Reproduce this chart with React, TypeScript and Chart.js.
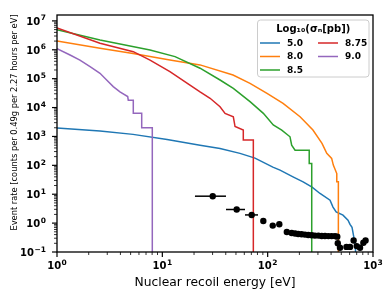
import React, { useEffect, useRef } from 'react';
import { Chart, registerables } from 'chart.js';

Chart.register(...registerables);

const FONT = "'DejaVu Sans', sans-serif";

// Recoil energy [eV] and event rate for each Log10(sigma_n [pb]) curve
const energy50 = [1, 2.56, 5.27, 11.1, 22.8, 35.3, 54.6, 75.8, 112, 131, 174, 217, 264, 314, 391, 417, 447, 519, 579, 605, 632, 660, 680, 690];
const rate50 = [1950, 1530, 1180, 790, 500, 385, 259, 178, 87, 68, 40, 26.8, 17.5, 10.6, 6.2, 3.6, 2.44, 1.88, 1.26, 0.9, 0.72, 0.3, 0.145, 0.05];

const energy80 = [1, 2.56, 5.27, 11.8, 22.8, 46.9, 68, 98.6, 140, 203, 269, 328, 364, 405, 420, 453, 453, 469, 469];
const rate80 = [2.03e6, 1.14e6, 7.4e5, 4.4e5, 3.0e5, 1.34e5, 6.9e4, 3.1e4, 1.4e4, 4.8e3, 1.66e3, 574, 259, 174, 102, 52, 27, 27, 0.01];

const energy85 = [1, 2.56, 7.64, 13.2, 22.8, 35.3, 47.2, 68, 91, 113, 136, 163, 169, 182, 248, 248, 262, 262];
const rate85 = [4.9e6, 2.19e6, 9.9e5, 5.8e5, 2.3e5, 9.0e4, 4.6e4, 1.6e4, 6.3e3, 2.5e3, 1.66e3, 973, 500, 336, 336, 116, 116, 0.01];

const energy875 = [1, 2.56, 5.3, 7.64, 11.8, 18.3, 22.8, 28.4, 35.3, 39.4, 47.2, 49, 58.7, 58.7, 73.1, 73.1];
const rate875 = [5.7e6, 1.69e6, 8.6e5, 4.4e5, 1.75e5, 6.0e4, 3.5e4, 2.1e4, 1.07e4, 6.3e3, 4.8e3, 2.2e3, 1.66e3, 750, 750, 0.01];

const energy90 = [1, 1.33, 1.65, 2.06, 2.56, 2.96, 3.42, 3.96, 4.69, 4.75, 5.3, 5.3, 6.37, 6.37, 8.03, 8.03];
const rate90 = [1.1e6, 6.6e5, 4.4e5, 2.6e5, 1.54e5, 9.0e4, 5.3e4, 3.5e4, 2.4e4, 1.8e4, 1.8e4, 6.3e3, 6.3e3, 2.0e3, 2.0e3, 0.01];

const seriesLabels = ['5.0', '8.0', '8.5', '8.75', '9.0'];
const seriesColors = ['#1f77b4', '#ff7f0e', '#2ca02c', '#d62728', '#9467bd'];
const seriesEnergies = [energy50, energy80, energy85, energy875, energy90];
const seriesRates = [rate50, rate80, rate85, rate875, rate90];

// Measured spectrum (black points) with horizontal error bars
const dataEnergy = [30.1, 50.8, 70.5, 90.9, 111.7, 129, 152, 169, 182, 195, 210, 226, 243, 262, 281, 303, 326, 350, 377, 405, 436, 458, 463, 486, 560, 605, 655, 700, 753, 810, 850];
const dataRate = [8.55, 2.96, 1.92, 1.19, 0.82, 0.91, 0.49, 0.456, 0.435, 0.42, 0.41, 0.4, 0.39, 0.38, 0.37, 0.37, 0.36, 0.36, 0.355, 0.355, 0.355, 0.34, 0.2, 0.14, 0.15, 0.15, 0.25, 0.16, 0.14, 0.21, 0.25];
const dataErrLow = [20.4, 40.2, 60.9];
const dataErrHigh = [40.2, 60.9, 81];

// Tick labels: base "10" with exponent
const tickBase = '10';
const xTickValues = [1, 10, 100, 1000];
const xTickExponents = ['0', '1', '2', '3'];
const yTickValues = [0.1, 1, 10, 100, 1e3, 1e4, 1e5, 1e6, 1e7];
const yTickExponents = ['\u22121', '0', '1', '2', '3', '4', '5', '6', '7'];

const X_MIN = 1;
const X_MAX = 1000;
const Y_MIN = 0.1;
const Y_MAX = 1.6e7;

const legendTitle = 'Log₁₀(σₙ[pb])';
const yTitle = 'Event rate [counts per 0.49g per 2.27 hours per eV]';
const xTitle = 'Nuclear recoil energy [eV]';

function drawPowerLabel(ctx: CanvasRenderingContext2D, exp: string, x: number, baseline: number, align: 'center' | 'right') {
  ctx.font = `bold 10px ${FONT}`;
  const w1 = ctx.measureText(tickBase).width;
  ctx.font = `bold 7.5px ${FONT}`;
  const w2 = ctx.measureText(exp).width;
  const total = w1 + w2 + 0.5;
  const start = align === 'center' ? x - total / 2 : x - total;
  ctx.textAlign = 'left';
  ctx.textBaseline = 'alphabetic';
  ctx.fillStyle = '#000';
  ctx.font = `bold 10px ${FONT}`;
  ctx.fillText(tickBase, start, baseline);
  ctx.font = `bold 7.5px ${FONT}`;
  ctx.fillText(exp, start + w1 + 0.5, baseline - 4.3);
}

const decorPlugin = {
  id: 'decor',
  beforeDatasetsDraw(chart: any) {
    const { ctx, chartArea: a, scales } = chart;
    ctx.save();
    ctx.beginPath();
    ctx.rect(a.left, a.top, a.right - a.left, a.bottom - a.top);
    ctx.clip();
    ctx.strokeStyle = '#000';
    ctx.lineWidth = 1.5;
    for (let i = 0; i < dataErrLow.length; i++) {
      const py = scales.y.getPixelForValue(dataRate[i]);
      ctx.beginPath();
      ctx.moveTo(scales.x.getPixelForValue(dataErrLow[i]), py);
      ctx.lineTo(scales.x.getPixelForValue(dataErrHigh[i]), py);
      ctx.stroke();
    }
    ctx.restore();
  },
  afterDraw(chart: any) {
    const { ctx, chartArea: a, scales } = chart;
    const xs = scales.x;
    const ys = scales.y;
    ctx.save();
    ctx.strokeStyle = '#000';
    // y ticks (major + minor)
    for (let e = -1; e <= 7; e++) {
      for (let m = 1; m <= 9; m++) {
        const v = m * Math.pow(10, e);
        if (v < Y_MIN * 0.999 || v > Y_MAX) continue;
        const p = ys.getPixelForValue(v);
        const major = m === 1;
        ctx.lineWidth = major ? 1.2 : 0.8;
        ctx.beginPath();
        ctx.moveTo(a.left - (major ? 5 : 3), p);
        ctx.lineTo(a.left, p);
        ctx.stroke();
      }
    }
    // x ticks
    for (let e = 0; e <= 3; e++) {
      for (let m = 1; m <= 9; m++) {
        const v = m * Math.pow(10, e);
        if (v > X_MAX * 1.001) continue;
        const p = xs.getPixelForValue(v);
        const major = m === 1;
        ctx.lineWidth = major ? 1.2 : 0.8;
        ctx.beginPath();
        ctx.moveTo(p, a.bottom);
        ctx.lineTo(p, a.bottom + (major ? 5 : 3));
        ctx.stroke();
      }
    }
    // frame
    ctx.lineWidth = 1.3;
    ctx.strokeRect(a.left, a.top, a.right - a.left, a.bottom - a.top);

    // tick labels
    yTickValues.forEach((v, i) => {
      drawPowerLabel(ctx, yTickExponents[i], a.left - 11, ys.getPixelForValue(v) + 3.8, 'right');
    });
    xTickValues.forEach((v, i) => {
      drawPowerLabel(ctx, xTickExponents[i], xs.getPixelForValue(v), a.bottom + 17, 'center');
    });

    // y-axis title
    ctx.save();
    ctx.translate(17, 122.5);
    ctx.rotate(-Math.PI / 2);
    ctx.fillStyle = '#000';
    ctx.font = `8.3px ${FONT}`;
    ctx.textAlign = 'center';
    ctx.textBaseline = 'alphabetic';
    ctx.fillText(yTitle, 0, 0);
    ctx.restore();

    // legend
    const lx = 257.5, ly = 20, lw = 111.5, lh = 57;
    ctx.beginPath();
    ctx.roundRect(lx, ly, lw, lh, 3);
    ctx.fillStyle = 'rgba(255,255,255,0.85)';
    ctx.fill();
    ctx.strokeStyle = '#cccccc';
    ctx.lineWidth = 1;
    ctx.stroke();
    ctx.fillStyle = '#000';
    ctx.font = `bold 10px ${FONT}`;
    ctx.textAlign = 'center';
    ctx.textBaseline = 'middle';
    ctx.fillText(legendTitle, lx + lw / 2, 29.5);
    const items = chart.data.datasets.filter((d: any) => d.inLegend);
    items.forEach((d: any, i: number) => {
      const col = i < 3 ? 0 : 1;
      const row = i < 3 ? i : i - 3;
      const x0 = col === 0 ? 260 : 318;
      const yy = 43 + row * 13.5;
      ctx.strokeStyle = d.borderColor;
      ctx.lineWidth = 1.5;
      ctx.beginPath();
      ctx.moveTo(x0, yy);
      ctx.lineTo(x0 + 20, yy);
      ctx.stroke();
      ctx.fillStyle = '#000';
      ctx.font = `bold 9px ${FONT}`;
      ctx.textAlign = 'left';
      ctx.textBaseline = 'middle';
      ctx.fillText(d.label, x0 + 27, yy + 0.5);
    });
    ctx.restore();
  },
};

export default function App() {
  const canvasRef = useRef<HTMLCanvasElement | null>(null);

  useEffect(() => {
    const canvas = canvasRef.current;
    if (!canvas) return;
    const lineSets = seriesLabels.map((label, s) => ({
      label,
      inLegend: true,
      data: seriesEnergies[s].map((e, i) => ({ x: e, y: seriesRates[s][i] })),
      borderColor: seriesColors[s],
      backgroundColor: seriesColors[s],
      borderWidth: 1.5,
      pointRadius: 0,
      tension: 0,
      fill: false,
      order: 5 - s,
    }));
    const pointSet = {
      label: 'data',
      inLegend: false,
      data: dataEnergy.map((e, i) => ({ x: e, y: dataRate[i] })),
      showLine: false,
      pointRadius: 3.2,
      pointBorderWidth: 0,
      pointBackgroundColor: '#000',
      borderColor: '#000',
      backgroundColor: '#000',
      order: 0,
    };
    const chart = new Chart(canvas, {
      type: 'line',
      data: { datasets: [...lineSets, pointSet] as any },
      options: {
        responsive: false,
        devicePixelRatio: 1,
        animation: false,
        events: [],
        layout: { padding: { left: 0, right: 18, top: 15, bottom: 0 } },
        plugins: {
          legend: { display: false },
          tooltip: { enabled: false },
        },
        scales: {
          x: {
            type: 'logarithmic',
            min: X_MIN,
            max: X_MAX,
            afterBuildTicks: (scale: any) => {
              scale.ticks = xTickValues.map((v) => ({ value: v }));
            },
            afterFit: (scale: any) => {
              scale.height = 43;
            },
            grid: { display: false, drawTicks: false },
            border: { display: false },
            ticks: { display: false },
            title: {
              display: true,
              text: xTitle,
              color: '#000',
              font: { family: FONT, size: 12.3 },
              padding: { top: 0, bottom: 5 },
            },
          },
          y: {
            type: 'logarithmic',
            min: Y_MIN,
            max: Y_MAX,
            afterBuildTicks: (scale: any) => {
              scale.ticks = yTickValues.map((v) => ({ value: v }));
            },
            afterFit: (scale: any) => {
              scale.width = 57;
            },
            grid: { display: false, drawTicks: false },
            border: { display: false },
            ticks: { display: false },
          },
        },
      } as any,
      plugins: [decorPlugin],
    });
    return () => chart.destroy();
  }, []);

  return (
    <div style={{ position: 'fixed', left: 0, top: 0, width: 391, height: 295, background: '#fff' }}>
      <canvas ref={canvasRef} width={391} height={295} style={{ display: 'block' }} />
    </div>
  );
}
